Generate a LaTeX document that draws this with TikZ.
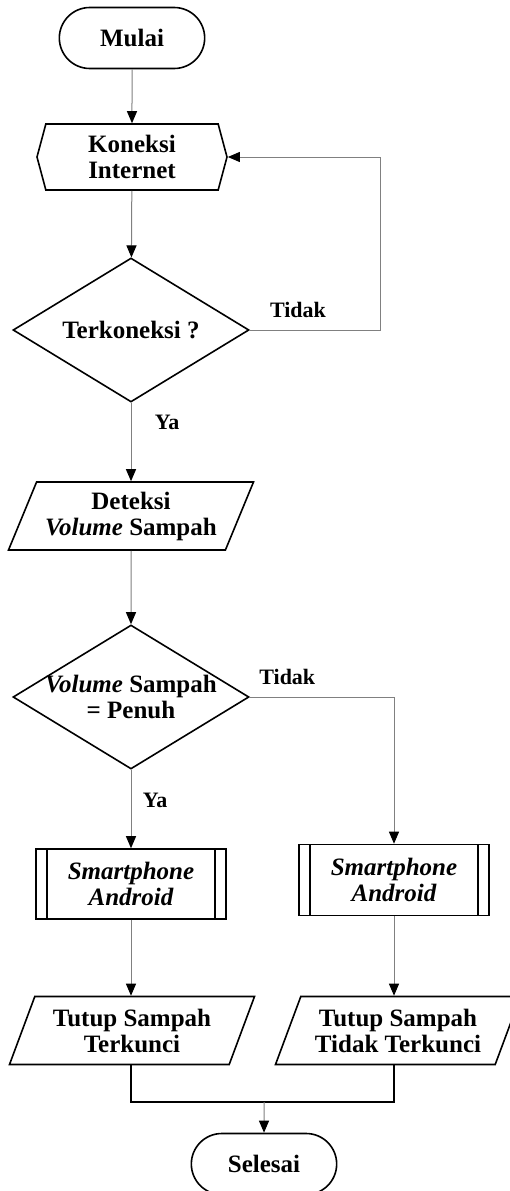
\documentclass[tikz,border=0pt]{standalone}
\usepackage{fontspec}
\setmainfont{Liberation Serif}
\usetikzlibrary{arrows.meta,positioning,shapes.geometric,shapes.misc,shapes.symbols}
\tikzset{ >={Triangle[length=12pt,width=10pt,color=black]},
  mulaiselesai/.style={ rounded rectangle, draw=black, line width=1.6pt, minimum width=152pt, minimum height=61pt, font=\fontsize{25}{26}\selectfont\bfseries},
  persiapan/.style={ signal, signal to=west and east, signal pointer angle=150, draw=black, line width=1.6pt, minimum width=190pt, minimum height=66pt, inner sep=1pt, align=center, font=\fontsize{25}{26}\selectfont\bfseries},
  keputusan/.style={ diamond, draw=black, line width=1.6pt, minimum width=236pt, minimum height=144pt, inner sep=-20pt, align=center, font=\fontsize{25}{26}\selectfont\bfseries},
  masukan/.style={ trapezium, trapezium left angle=61, trapezium right angle=119, trapezium stretches body, draw=black, line width=1.6pt, minimum width=245pt, minimum height=68pt, inner sep=1pt, align=center, font=\fontsize{25}{26}\selectfont\bfseries},
  proses/.style={ rectangle, draw=black, line width=1.6pt, minimum width=190pt, minimum height=70pt, inner sep=1pt, align=center, font=\fontsize{25}{26}\selectfont\bfseries\itshape,
    path picture={\draw[line width=2pt] ([xshift=11pt]path picture bounding box.north west) -- ([xshift=11pt]path picture bounding box.south west)
      ([xshift=-11pt]path picture bounding box.north east) -- ([xshift=-11pt]path picture bounding box.south east);}},
  pil/.style={ ->, draw=black!50, line width=1pt},
  garis/.style={ draw=black, line width=1.3pt},
  ket/.style={ font=\fontsize{22}{24}\selectfont\bfseries}}

\begin{document}
\begin{tikzpicture}[x=1pt, y=-1pt]
    \useasboundingbox (0,0) rectangle (509,1191);
    %nodes
    \node[mulaiselesai] (mulai) at (132,38) {Mulai};
    \node[persiapan] (koneksi) at (132,157) {Koneksi\\Internet};
    \node[keputusan] (terkoneksi) at (131,330) {Terkoneksi ?};
    \node[masukan] (deteksi) at (131,516) {Deteksi\\\textit{Volume} Sampah};
    \node[keputusan] (penuh) at (131,697) {\textit{Volume} Sampah\\= Penuh};
    \node[proses] (android1) at (131,884) {Smartphone\\Android};
    \node[proses, minimum height=71pt] (android2) at (394,880) {Smartphone\\Android};
    \node[masukan] (terkunci) at (132,1030.5) {Tutup Sampah\\Terkunci};
    \node[masukan] (tidakterkunci) at (398,1030.5) {Tutup Sampah\\Tidak Terkunci};
    \node[mulaiselesai] (selesai) at (264,1164) {Selesai};
    % helper points for the loop and the join
    \coordinate (balik) at (380,330);
    \coordinate (gabung) at (264,1102);

    %connectors
    \draw[pil] (mulai) -- (koneksi);
    \draw[pil] (koneksi) -- (terkoneksi);
    \draw[pil] (terkoneksi.east) -- node[ket, pos=0.37, above=8pt] {Tidak} (balik) |- (koneksi.east);
    \draw[pil] (terkoneksi) -- node[ket, pos=0.25, right=20pt] {Ya} (deteksi);
    \draw[pil] (deteksi) -- (penuh);
    \draw[pil] (penuh.east) -- node[ket, pos=0.26, above=8pt] {Tidak} (penuh.east -| android2.north) -- (android2.north);
    \draw[pil] (penuh) -- node[ket, pos=0.39, right=8pt] {Ya} (android1);
    \draw[pil] (android1) -- (terkunci.north -| android1);
    \draw[pil] (android2) -- (tidakterkunci.north -| android2);
    \draw[garis] (terkunci.south -| android1) |- (gabung) -| (tidakterkunci.south -| android2);
    \draw[pil] (gabung) -- (selesai);
\end{tikzpicture}
\end{document}
